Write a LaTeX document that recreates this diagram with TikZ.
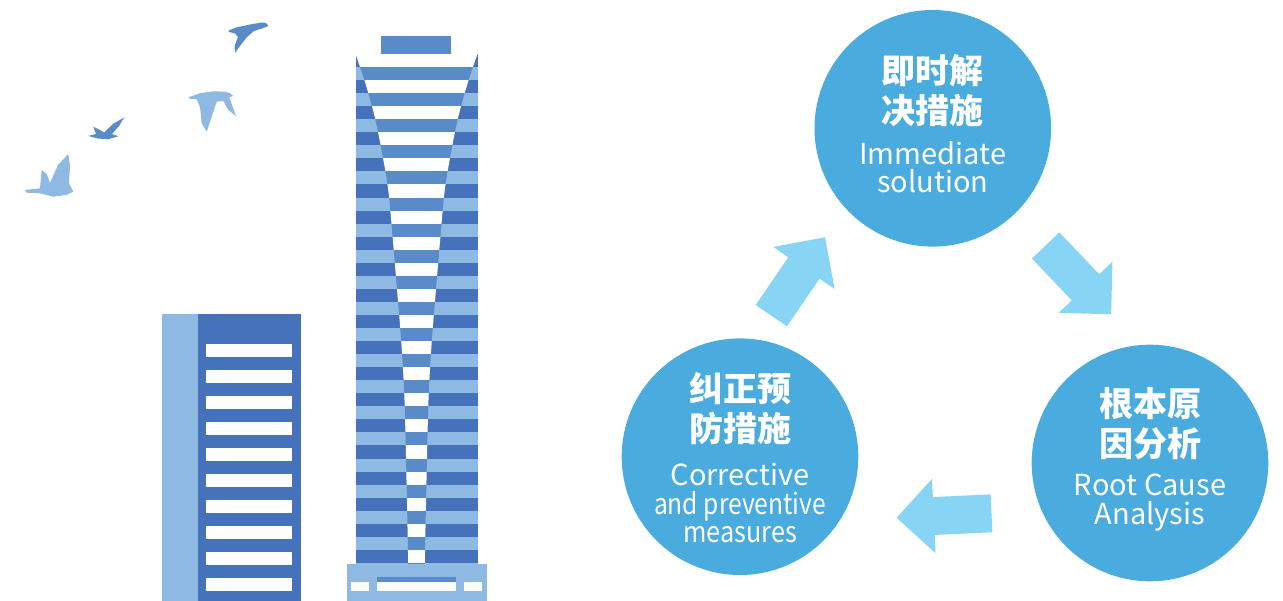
\documentclass[tikz,border=0pt]{standalone}
\usepackage{fontspec}
\setmainfont{Noto Sans CJK SC}
\usetikzlibrary{calc,shapes.arrows}

\definecolor{towerdark}{RGB}{69,114,186}
\definecolor{towerlight}{RGB}{142,185,227}
\definecolor{towermid}{RGB}{90,139,201}
\definecolor{stageblue}{RGB}{74,171,222}
\definecolor{arrowblue}{RGB}{135,212,245}

\tikzset{
  stage/.style={circle, fill=stageblue, minimum size=236.6pt, inner sep=0pt},
  zhlabel/.style={text=white, align=center, font=\bfseries\fontsize{34}{40}\selectfont},
  enlabel/.style={text=white, align=center, font=\fontsize{29}{28.5}\selectfont},
  flowarrow/.style={single arrow, fill=arrowblue, minimum height=95pt,
    inner xsep=0pt, inner ysep=18.75pt, single arrow head extend=18.25pt, anchor=tail},
}

\begin{document}
\begin{tikzpicture}[x=1pt, y=-1pt]
	\useasboundingbox (0,0) rectangle (1283,601);
	
	% birds
	\fill[towermid] (228.3,30.7) -- (236,27.5) -- (250,24.5) -- (262,22.5) -- (266,23) -- (268.5,26) -- (262,28.5) -- (254,31) -- (247,37) -- (240,46) -- (235,52.7) -- (234.5,46) -- (238,37) -- (235,33.5) -- (229,32) -- cycle;
	\fill[towerlight] (188.3,97.3) -- (200,93.3) -- (213.3,91.3) -- (225,91.7) -- (230,93.3) -- (233.3,96) -- (229.3,97.3) -- (236,116) -- (228.3,110) -- (223.3,101) -- (216.7,101.7) -- (206.7,131.7) -- (201.7,123.3) -- (200,106.7) -- (196.7,99.3) -- (190,98.7) -- cycle;
	\fill[towermid] (88.3,136) -- (96,134) -- (93.3,126.7) -- (99,129.5) -- (104,132.5) -- (113,124) -- (124.3,117.3) -- (119,126) -- (112,134) -- (118.3,136.3) -- (108,139.3) -- (98,138.5) -- cycle;
	\fill[towerlight] (25,190) -- (40,188.3) -- (41.7,170) -- (46.7,174) -- (50,183) -- (58,165) -- (68.3,154) -- (70,166) -- (69,183.3) -- (73.3,191.7) -- (66,195) -- (53.3,196.7) -- (40,193.3) -- (26.7,192.7) -- cycle;
	
	% low building
	\fill[towerlight] (161.7,314) rectangle (198.3,601);
	\fill[towerdark] (198.3,314) rectangle (300.7,601);
	\foreach \k in {0,...,9}
		\fill[white] (205.7,344+26*\k) rectangle (291.7,356.7+26*\k);
	
	% tall tower, side bands
	\fill[towermid] (381.3,36) rectangle (451.3,54);
	\foreach \k in {0,...,19}{
		\fill[towerdark] (355.5,54+26.1*\k) rectangle (477.5,67.05+26.1*\k);
		\fill[towerlight] (355.5,67.05+26.1*\k) rectangle (477.5,80.1+26.1*\k);
	}
	% narrowing core
	\begin{scope}
		\clip plot[smooth] coordinates {(355.5,54) (365,82) (375,118) (383,158) (389,197) (397.3,293) (401.5,345) (404.5,400) (406.5,480) (408.2,563) (408.2,575)}
			-- plot[smooth] coordinates {(424.8,575) (424.8,563) (426.5,480) (428.5,400) (431.5,345) (435.7,293) (444,197) (450,158) (458,118) (468,82) (477.5,54)} -- cycle;
		\foreach \k in {0,...,19}{
			\fill[white] (355.5,54+26.1*\k) rectangle (477.5,67.05+26.1*\k);
			\fill[towermid] (355.5,67.05+26.1*\k) rectangle (477.5,80.1+26.1*\k);
		}
	\end{scope}
	% base
	\fill[towerlight] (346.5,563.5) rectangle (486.5,601);
	\fill[towermid] (376.7,577) rectangle (455.7,582);
	\fill[white] (350.7,582) rectangle (368.7,591);
	\fill[white] (376.7,582) rectangle (455.7,591);
	\fill[white] (464,582) rectangle (481.7,591);
	
	% cycle of stages
	\node[stage] (imm) at (932.8,128.3) {};
	\node[stage] (root) at (1150,463) {};
	\node[stage] (cor) at (740,456.7) {};
	
	\node[zhlabel] (imm-zh) at ($(imm)+(0,-38)$) {即时解\\决措施};
	\node[enlabel] (imm-en) at ($(imm)+(0,39)$) {Immediate\\solution};
	\node[zhlabel] (root-zh) at ($(root)+(0,-39)$) {根本原\\因分析};
	\node[enlabel] (root-en) at ($(root)+(0,39.5)$) {Root Cause\\Analysis};
	\node[zhlabel] (cor-zh) at ($(cor)+(0,-48.4)$) {纠正预\\防措施};
	\node[enlabel] (cor-en) at ($(cor)+(0,46.6)$) {Corrective\\\scalebox{0.85}[1]{and preventive}\\\scalebox{0.87}[1]{measures}};
	
	\node[flowarrow, rotate=55.6] (up) at (771.2,315.8) {};
	\node[flowarrow, rotate=-46.4] (down) at (1045.5,245.3) {};
	\node[flowarrow, rotate=182.7] (back) at (991.7,513.3) {};
\end{tikzpicture}
\end{document}
